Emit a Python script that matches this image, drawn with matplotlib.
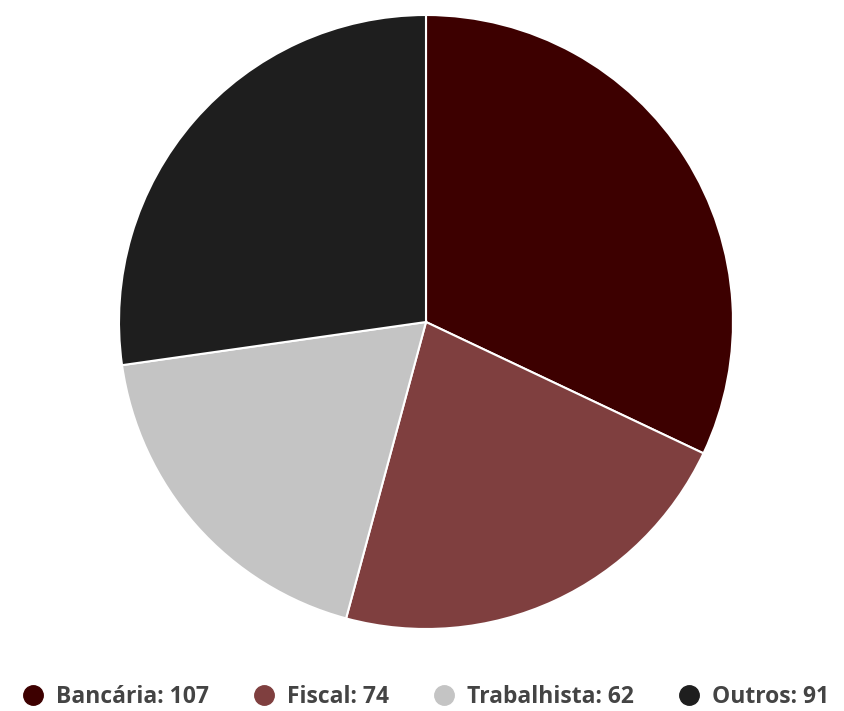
import matplotlib.pyplot as plt
from matplotlib.lines import Line2D

plt.rcParams['font.family'] = ['Open Sans', 'DejaVu Sans']

# Processos por área
categories = ['Bancária', 'Fiscal', 'Trabalhista', 'Outros']
values = [107, 74, 62, 91]
colors = ['#3d0000', '#7f3f3f', '#c4c4c4', '#1e1e1e']

fig = plt.figure(figsize=(8.45, 7.11), dpi=100)
W, H = 845, 711
cx, cy, r = 426, 322, 307
ax = fig.add_axes([(cx - r) / W, (H - cy - r) / H, 2 * r / W, 2 * r / H])

ax.pie(values, colors=colors, startangle=90, counterclock=False, radius=1,
       wedgeprops=dict(edgecolor='white', linewidth=1.5))
ax.set_xlim(-1.0, 1.0)
ax.set_ylim(-1.0, 1.0)
ax.set_aspect('equal')
ax.axis('off')

handles = [Line2D([], [], marker='o', linestyle='none', markersize=14,
                  markerfacecolor=c, markeredgecolor=c) for c in colors]
labels = [f'{c}: {v}' for c, v in zip(categories, values)]
fig.legend(handles, labels, loc='center', ncol=4,
           bbox_to_anchor=(0.505, (H - 697) / H), frameon=False,
           prop=dict(weight='bold', size=16.5), labelcolor='#444444',
           handletextpad=0.6, columnspacing=2.0, handlelength=0.8)

fig.savefig('out.png', dpi=100)
